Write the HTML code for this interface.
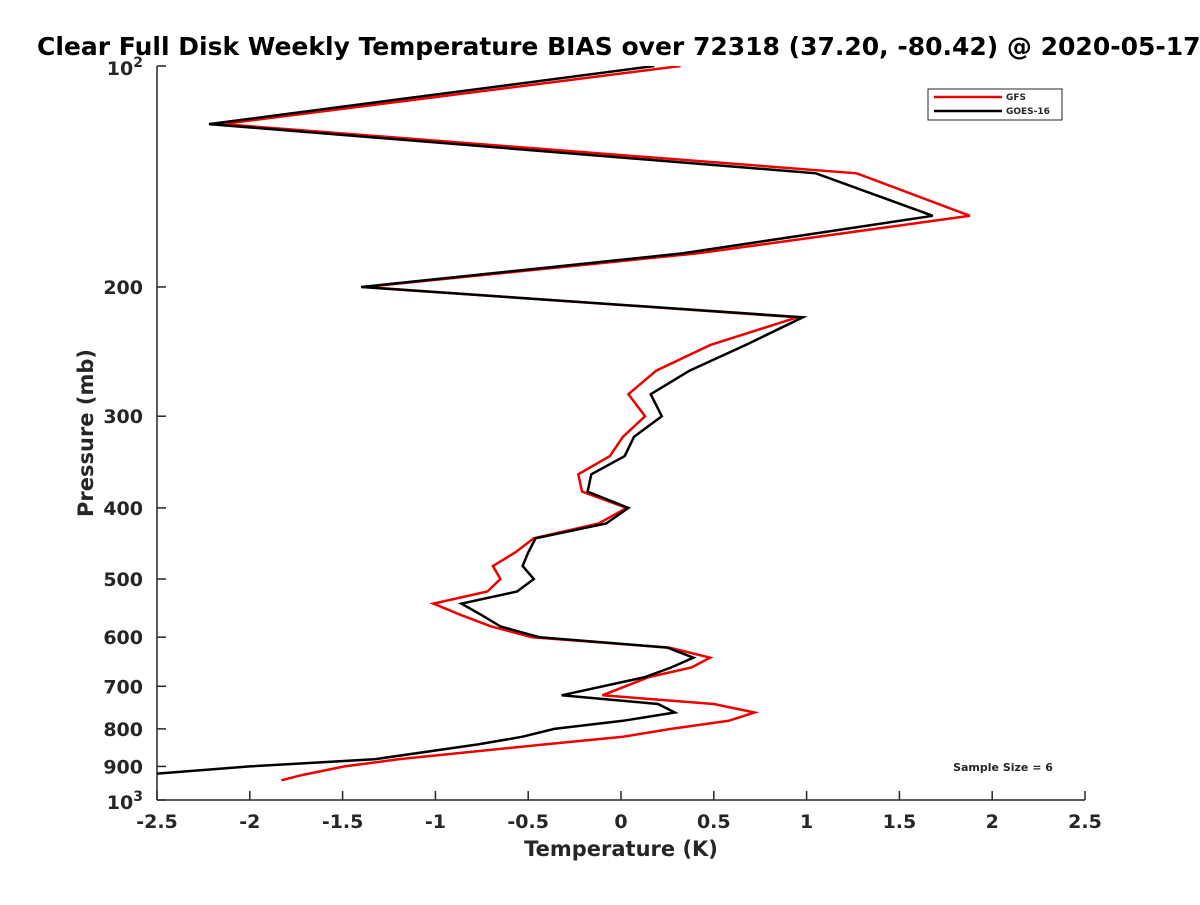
<!DOCTYPE html>
<html><head><meta charset="utf-8"><style>
body{margin:0;background:#fff;font-family:"Liberation Sans","DejaVu Sans",sans-serif}
svg text{font-family:"DejaVu Sans","Liberation Sans",sans-serif;font-weight:bold;fill:#262626}
</style></head><body>
<svg id="chart" width="1200" height="900">
<rect width="1200" height="900" fill="#fff"/>
<text x="37" y="55" font-size="25" style="fill:#000">Clear Full Disk Weekly Temperature BIAS over 72318 (37.20, -80.42) @ 2020-05-17</text>
<g id="axes"></g>
<g id="series"></g>
<g>
<rect x="928" y="89" width="134" height="31" fill="#fff" stroke="#262626" stroke-width="1"/>
<line x1="934" y1="97" x2="1002" y2="97" stroke="#e00" stroke-width="2.5"/>
<text x="1006" y="100" font-size="9">GFS</text>
<line x1="934" y1="111" x2="1002" y2="111" stroke="#000" stroke-width="2.5"/>
<text x="1006" y="114" font-size="9">GOES-16</text>
</g>
<text x="1003" y="771" font-size="11" text-anchor="middle">Sample Size = 6</text>
<text x="621" y="856" font-size="21" text-anchor="middle">Temperature (K)</text>
<text transform="translate(93,433) rotate(-90)" font-size="21" text-anchor="middle">Pressure (mb)</text>
</svg>
<script>
const pressures=[100,120,140,160,180,200,220,240,260,280,300,320,340,360,380,400,420,440,460,480,500,520,540,560,580,600,620,640,660,680,720,740,760,780,800,820,840,880,900,925,940];
const gfsValues=[0.32,-2.15,1.27,1.88,0.41,-1.38,0.95,0.48,0.19,0.04,0.13,0.01,-0.06,-0.23,-0.21,0.03,-0.12,-0.47,-0.57,-0.69,-0.65,-0.72,-1.01,-0.86,-0.70,-0.48,0.26,0.48,0.38,0.15,-0.10,0.50,0.72,0.58,0.27,0.01,-0.41,-1.20,-1.49,-1.72,-1.83];
const goesValues=[0.18,-2.22,1.05,1.68,0.33,-1.40,0.98,0.67,0.37,0.16,0.22,0.07,0.02,-0.16,-0.18,0.04,-0.08,-0.46,-0.50,-0.53,-0.47,-0.56,-0.86,-0.75,-0.65,-0.44,0.25,0.39,0.27,0.13,-0.32,0.20,0.29,0.01,-0.36,-0.53,-0.77,-1.33,-2.0,-2.6,-3.0];
const xTicks=[-2.5,-2,-1.5,-1,-0.5,0,0.5,1,1.5,2,2.5];
const yTicks=[200,300,400,500,600,700,800,900];
const NS="http://www.w3.org/2000/svg";
const L=157,R=1085,T=66,B=800;
const xs=v=>L+(v+2.5)/5*(R-L);
const ys=p=>T+Math.log10(p/100)*(B-T);
function mk(tag,attrs,parent){const e=document.createElementNS(NS,tag);for(const k in attrs)e.setAttribute(k,attrs[k]);parent.appendChild(e);return e;}
const ax=document.getElementById('axes');
const xl=mk('line',{x1:L,y1:B,x2:R,y2:B,stroke:'#262626','stroke-width':1.5},ax);


const yl=mk('line',{x1:L,y1:T,x2:L,y2:B,stroke:'#262626','stroke-width':1.5},ax);


xTicks.forEach(v=>{
 const t=mk('line',{x1:xs(v),y1:B,x2:xs(v),y2:B-9,stroke:'#262626','stroke-width':1.5},ax);
 
 
 const tx=mk('text',{x:xs(v),y:B+28,'font-size':19,'text-anchor':'middle'},ax);
 tx.textContent=String(v);
 
 
});
[100].concat(yTicks,[1000]).forEach(p=>{
 const t=mk('line',{x1:L,y1:ys(p),x2:L+9,y2:ys(p),stroke:'#262626','stroke-width':1.5},ax);
 
 
});
yTicks.forEach(p=>{
 const tx=mk('text',{x:L-14,y:ys(p)+7,'font-size':19,'text-anchor':'end'},ax);
 tx.textContent=String(p);
 
 
});
[[100,'2'],[1000,'3']].forEach(([p,e])=>{
 const tx=mk('text',{x:L-14,y:ys(p)+9,'font-size':19,'text-anchor':'end'},ax);
 tx.innerHTML='10<tspan dy="-8" font-size="14">'+e+'</tspan>';
 
 
});
const sg=document.getElementById('series');
mk('clipPath',{id:'clip'},sg).appendChild(document.createElementNS(NS,'rect'));
const cr=sg.querySelector('clipPath rect');cr.setAttribute('x',L);cr.setAttribute('y',T);cr.setAttribute('width',R-L);cr.setAttribute('height',B-T);
function series(vals,color,name){
 const d=vals.map((v,i)=>(i?'L':'M')+xs(v).toFixed(1)+','+ys(pressures[i]).toFixed(1)).join(' ');
 const p=mk('path',{d:d,fill:'none',stroke:color,'stroke-width':2.5,'clip-path':'url(#clip)'},sg);
 
 
}
series(gfsValues,'#e00','gfs-line');
series(goesValues,'#000','goes-16-line');
</script>
</body></html>
